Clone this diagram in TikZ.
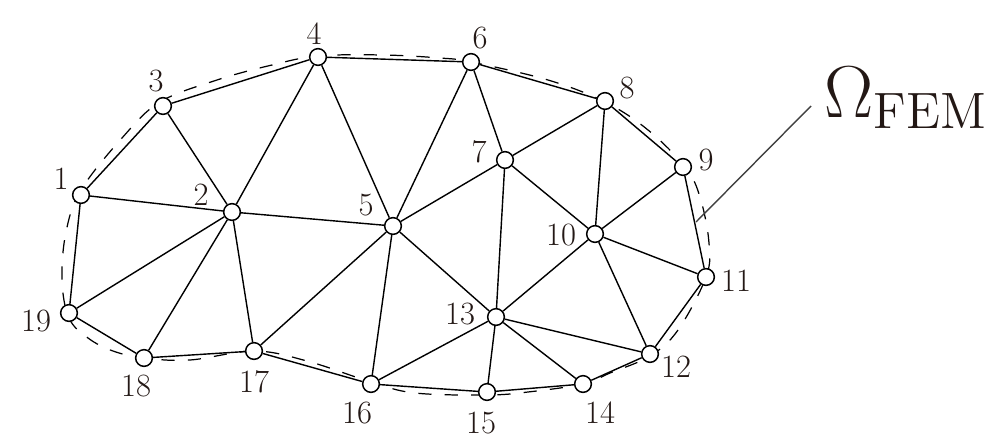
\documentclass[tikz,border=0pt]{standalone}
\usepackage{amsmath,amssymb}
\definecolor{inkcolor}{HTML}{231815}

\begin{document}
\begin{tikzpicture}[x=0.02cm,y=-0.02cm,
    vertex/.style={draw=black,line width=0.85pt,circle,inner sep=0pt,fill=white,minimum size=9.5pt},
    numlabel/.style={inner sep=0pt,text=inkcolor,font=\fontsize{18.5}{20}\selectfont}]
            \useasboundingbox (0,0) rectangle (1000,446);

            % boundary of the domain
            \draw [dashed,dash pattern=on 7.5pt off 7.5pt,line width=0.7pt] plot [smooth cycle,tension=0.6] coordinates {
                (81,190) (122,138) (160,102) (217,80) (272,65) (318,56) (383,55) (440,58) (471,62)
                (548,80) (605,102) (648,130) (685,167) (700,197) (709,243) (706,277) (678,330) (650,356)
                (610,373) (583,384) (528,392) (487,395) (415,393) (371,382) (307,361) (254,351)
                (190,360) (144,358) (113,351) (88,338) (69,318) (62,280) (66,232)};

            \node [vertex] (1) at (81,195) {};
            \node [vertex] (2) at (232,212) {};
            \node [vertex] (3) at (163,106) {};
            \node [vertex] (4) at (318,57) {};
            \node [vertex] (5) at (393,226) {};
            \node [vertex] (6) at (471,62) {};
            \node [vertex] (7) at (505,160) {};
            \node [vertex] (8) at (605,101) {};
            \node [vertex] (9) at (683,167) {};
            \node [vertex] (10) at (595,234) {};
            \node [vertex] (11) at (706,277) {};
            \node [vertex] (12) at (650,354) {};
            \node [vertex] (13) at (496,317) {};
            \node [vertex] (14) at (583,384) {};
            \node [vertex] (15) at (487,392) {};
            \node [vertex] (16) at (371,384) {};
            \node [vertex] (17) at (254,351) {};
            \node [vertex] (18) at (144,358) {};
            \node [vertex] (19) at (69,313) {};

            \node [numlabel] (l1) at (61,179) {1};
            \node [numlabel] (l2) at (201,195) {2};
            \node [numlabel] (l3) at (156,81) {3};
            \node [numlabel] (l4) at (314,34) {4};
            \node [numlabel] (l5) at (366,205) {5};
            \node [numlabel] (l6) at (480,38) {6};
            \node [numlabel] (l7) at (479,152) {7};
            \node [numlabel] (l8) at (627,88) {8};
            \node [numlabel] (l9) at (706,160) {9};
            \node [numlabel] (l10) at (561,235) {10};
            \node [numlabel] (l11) at (736,281) {11};
            \node [numlabel] (l12) at (676,367) {12};
            \node [numlabel] (l13) at (460,314) {13};
            \node [numlabel] (l14) at (600,413) {14};
            \node [numlabel] (l15) at (481,423) {15};
            \node [numlabel] (l16) at (357,413) {16};
            \node [numlabel] (l17) at (254,382) {17};
            \node [numlabel] (l18) at (136,386) {18};
            \node [numlabel] (l19) at (36,321) {19};

            \path [-,line width=0.8pt] (1) edge (3);
            \path [-,line width=0.8pt] (3) edge (4);
            \path [-,line width=0.8pt] (4) edge (6);
            \path [-,line width=0.8pt] (6) edge (8);
            \path [-,line width=0.8pt] (8) edge (9);
            \path [-,line width=0.8pt] (9) edge (11);
            \path [-,line width=0.8pt] (11) edge (12);
            \path [-,line width=0.8pt] (12) edge (14);
            \path [-,line width=0.8pt] (14) edge (15);
            \path [-,line width=0.8pt] (15) edge (16);
            \path [-,line width=0.8pt] (16) edge (17);
            \path [-,line width=0.8pt] (17) edge (18);
            \path [-,line width=0.8pt] (18) edge (19);
            \path [-,line width=0.8pt] (19) edge (1);
            \path [-,line width=0.8pt] (1) edge (2);
            \path [-,line width=0.8pt] (2) edge (3);
            \path [-,line width=0.8pt] (2) edge (4);
            \path [-,line width=0.8pt] (4) edge (5);
            \path [-,line width=0.8pt] (2) edge (5);
            \path [-,line width=0.8pt] (5) edge (6);
            \path [-,line width=0.8pt] (5) edge (7);
            \path [-,line width=0.8pt] (6) edge (7);
            \path [-,line width=0.8pt] (7) edge (8);
            \path [-,line width=0.8pt] (7) edge (10);
            \path [-,line width=0.8pt] (7) edge (13);
            \path [-,line width=0.8pt] (8) edge (10);
            \path [-,line width=0.8pt] (9) edge (10);
            \path [-,line width=0.8pt] (10) edge (11);
            \path [-,line width=0.8pt] (10) edge (12);
            \path [-,line width=0.8pt] (10) edge (13);
            \path [-,line width=0.8pt] (12) edge (13);
            \path [-,line width=0.8pt] (13) edge (14);
            \path [-,line width=0.8pt] (13) edge (15);
            \path [-,line width=0.8pt] (13) edge (16);
            \path [-,line width=0.8pt] (5) edge (13);
            \path [-,line width=0.8pt] (5) edge (16);
            \path [-,line width=0.8pt] (5) edge (17);
            \path [-,line width=0.8pt] (2) edge (17);
            \path [-,line width=0.8pt] (2) edge (18);
            \path [-,line width=0.8pt] (2) edge (19);

            % label of the domain
            \node [anchor=base west,inner sep=0pt,text=inkcolor,scale=2.02,font=\huge] (omega) at (824,117) {$\Omega_{\mathrm{FEM}}$};
            \coordinate (leadstart) at (811,106);
            \coordinate (leadend) at (696,222);
            \path [-,line width=0.8pt,draw=black!75] (leadstart) edge (leadend);
        \end{tikzpicture}
\end{document}
